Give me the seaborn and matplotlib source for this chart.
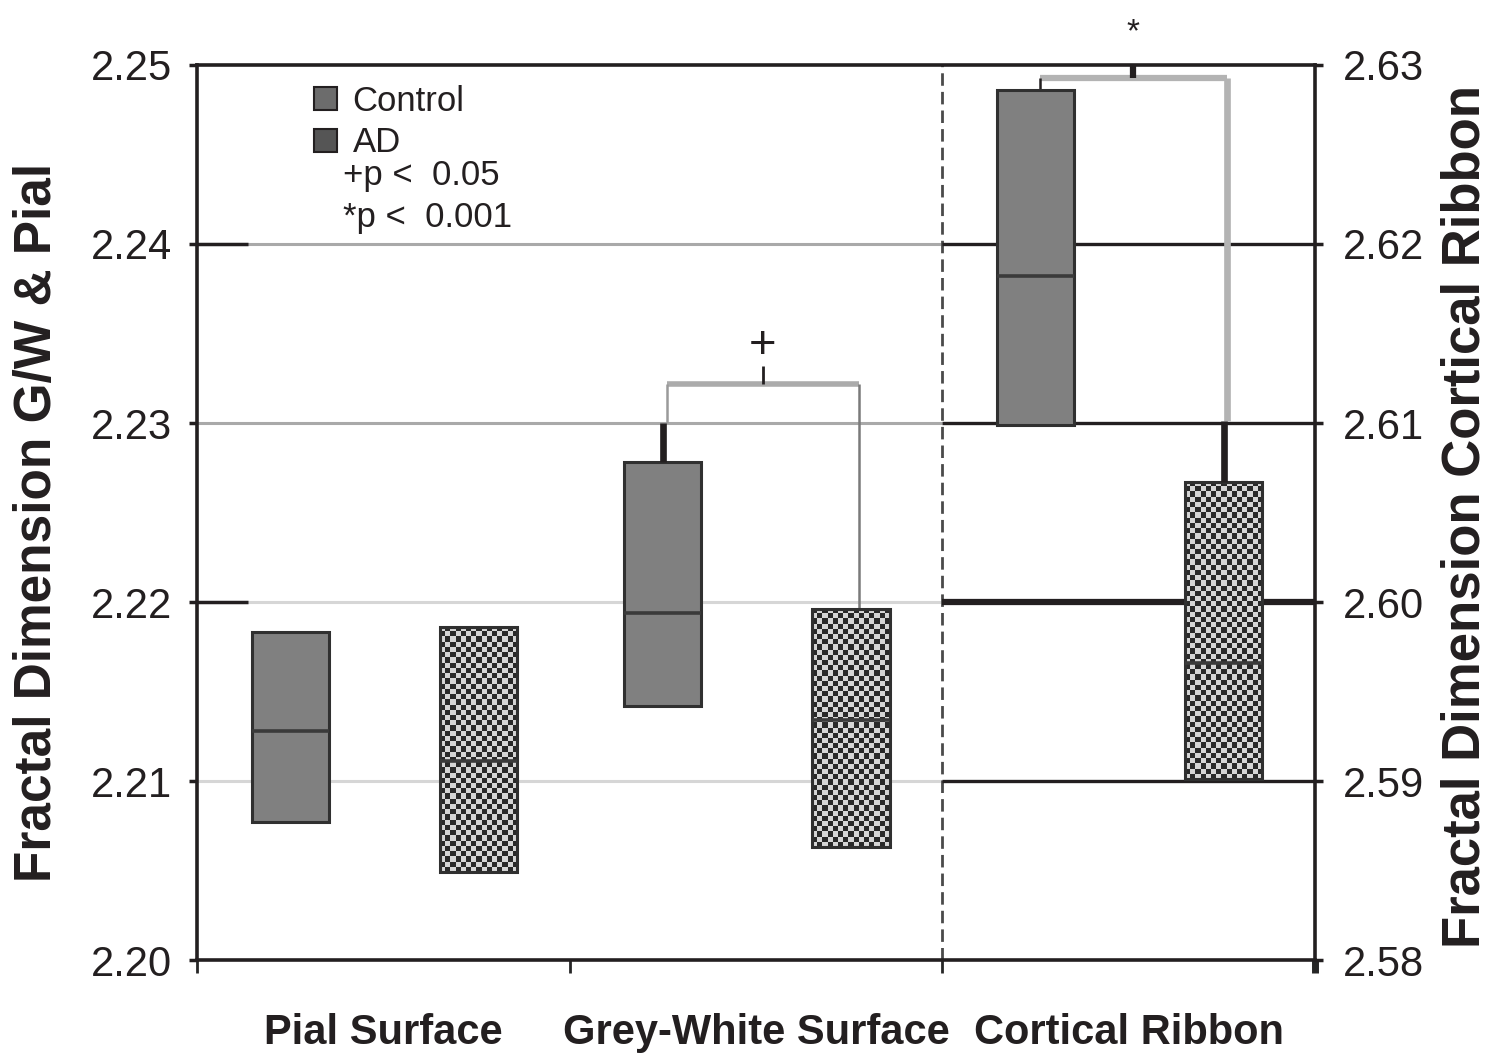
import numpy as np
import pandas as pd
import matplotlib
matplotlib.use("Agg")
import matplotlib.pyplot as plt
from matplotlib import font_manager
from matplotlib.patches import Patch
import seaborn as sns

# ---- data -----------------------------------------------------------------
categories = ["Pial Surface", "Grey-White Surface", "Cortical Ribbon"]
groups = ["Control", "AD"]
# which y axis each category is read on
category_axis = ["left", "left", "right"]

# box lower edge / median / upper edge per category
control_low = [2.2077, 2.2142, 2.6099]
control_median = [2.2128, 2.2194, 2.6182]
control_high = [2.2183, 2.2278, 2.6286]
ad_low = [2.2049, 2.2063, 2.5901]
ad_median = [2.2111, 2.2134, 2.5966]
ad_high = [2.2186, 2.2196, 2.6067]
# upper whisker ends (NaN = no whisker shown)
control_whisker = [np.nan, 2.2300, np.nan]
ad_whisker = [np.nan, np.nan, 2.6101]

left_ticks = [2.20, 2.21, 2.22, 2.23, 2.24, 2.25]
right_ticks = [2.58, 2.59, 2.60, 2.61, 2.62, 2.63]

# significance brackets
sig_category = [1, 2]
sig_height = [2.2322, 2.6293]
sig_marker = ["+", "*"]
legend_notes = ["+p <  0.05", "*p <  0.001"]

# ---- fonts ------------------------------------------------------------------
def has_font(name):
    try:
        font_manager.findfont(font_manager.FontProperties(family=name),
                              fallback_to_default=False)
        return True
    except ValueError:
        return False

NARROW = has_font("Liberation Sans Narrow")
narrow_family = ["Liberation Sans Narrow", "Liberation Sans"] if NARROW else ["Liberation Sans"]
wide_family = ["Liberation Sans", "DejaVu Sans"]

sns.set_theme(style="white")
plt.rcParams["font.family"] = narrow_family

INK = "#231f20"
tick_size = 36 if NARROW else 30
cat_size = 37 if NARROW else 30
legend_size = 30 if NARROW else 25

# ---- layout -----------------------------------------------------------------
fig = plt.figure(figsize=(14.9, 10.6), dpi=100)
ax = fig.add_axes([0.1322, 0.0943, 0.7504, 0.8444])
ax2 = ax.twinx()

offsets = {"Control": 0.25, "AD": 0.755}
box_width = 0.207

rows = []
for i, cat in enumerate(categories):
    for grp, lo, md, hi, wh in (
        ("Control", control_low[i], control_median[i], control_high[i], control_whisker[i]),
        ("AD", ad_low[i], ad_median[i], ad_high[i], ad_whisker[i]),
    ):
        rows.append(dict(category=cat, idx=i, group=grp, axis=category_axis[i],
                         pos=i + offsets[grp], low=lo, median=md, high=hi,
                         whisker=wh, span=hi - lo))
df = pd.DataFrame(rows)

ax.set_xlim(0, 3)
ax.set_ylim(2.20, 2.25)
ax2.set_ylim(2.58, 2.63)

px_x = ax.bbox.width / 3.0
px_y = ax.bbox.height / 0.05

# grid lines: grey on the left panel, black on the ribbon panel
left_grid_color = {2.21: "#d6d6d6", 2.22: "#d6d6d6", 2.23: "#a9a9a9", 2.24: "#a9a9a9"}
for y, c in left_grid_color.items():
    ax.hlines(y, 0, 2, color=c, lw=2.2, zorder=1)
for y in [2.22, 2.24]:
    ax.hlines(y, 0, 51 / px_x, color=INK, lw=2.5, zorder=1.5)
for y in [2.59, 2.60, 2.61, 2.62]:
    ax2.hlines(y, 2, 3, color=INK, lw=4.5 if abs(y - 2.60) < 1e-9 else 2.4, zorder=1)

ax.axvline(2, color="#4a4a4a", lw=2, ls=(0, (4.5, 2.2)), zorder=1.2)

# boxes
def checker(nx, ny):
    yy, xx = np.mgrid[0:ny, 0:nx]
    return ((xx + yy) % 2).astype(float)

for axis_name, sub in df.groupby("axis"):
    target = ax if axis_name == "left" else ax2
    for grp in groups:
        g = sub[sub["group"] == grp].sort_values("pos")
        is_ctrl = grp == "Control"
        sns.barplot(data=g, x="pos", y="span", native_scale=True, orient="x",
                    width=box_width, bottom=g["low"].to_numpy(), errorbar=None,
                    color="#808080" if is_ctrl else "white", saturation=1,
                    edgecolor="#303030", linewidth=2.2, zorder=4, ax=target)
        bars = target.containers[-1]
        for (_, r), bar in zip(g.iterrows(), bars):
            x0 = r["pos"] - box_width / 2
            x1 = r["pos"] + box_width / 2
            if not is_ctrl:
                bar.set_facecolor("none")
                nx = max(2, int(round(box_width * px_x / 5.2)))
                ny = max(2, int(round(r["span"] * px_y / 5.2)))
                im = target.imshow(checker(nx, ny), cmap="gray_r", vmin=-0.25, vmax=1.25,
                                   extent=(x0, x1, r["low"], r["high"]), origin="lower",
                                   aspect="auto", interpolation="antialiased", zorder=3)
                im.set_clip_path(bar)
            target.hlines(r["median"], x0, x1, color="#3a3a3a", lw=2.6, zorder=5)
            if not np.isnan(r["whisker"]):
                target.vlines(r["pos"], r["high"], r["whisker"], color=INK, lw=4.8, zorder=5)

# significance brackets
for ci, h, mk in zip(sig_category, sig_height, sig_marker):
    target = ax if category_axis[ci] == "left" else ax2
    ctrl = df[(df.idx == ci) & (df.group == "Control")].iloc[0]
    ad = df[(df.idx == ci) & (df.group == "AD")].iloc[0]
    xc = ctrl["pos"] + 0.012
    xa = ad["pos"] + (0.02 if mk == "+" else 0.008)
    mid = (xc + xa) / 2
    ctrl_top = ctrl["whisker"] if not np.isnan(ctrl["whisker"]) else ctrl["high"]
    ad_top = ad["whisker"] if not np.isnan(ad["whisker"]) else ad["high"]
    if mk == "+":
        target.hlines(h, xc, xa, color="#ababab", lw=4, zorder=2)
        target.vlines(xc, ctrl_top, h, color="#9a9a9a", lw=1.8, zorder=2)
        target.vlines(xa, ad_top, h, color="#7a7a7a", lw=1.8, zorder=2)
        target.vlines(mid, h, h + 18 / px_y, color=INK, lw=2, zorder=2)
        target.text(mid, h + 38 / px_y, mk, ha="center", va="center",
                    fontsize=34, color=INK, family=wide_family)
    else:
        target.hlines(h, xc, xa, color="#b3b3b3", lw=4.5, zorder=2)
        target.vlines(xc, ctrl_top, h, color=INK, lw=1.8, zorder=2)
        target.vlines(xa, ad_top, h, color="#b3b3b3", lw=4.8, zorder=2)
        target.vlines(mid, h, 2.63, color=INK, lw=4.5, zorder=2)
        target.text(mid, 2.63 + 32 / px_y, mk, ha="center", va="center",
                    fontsize=24, color=INK, family=wide_family, clip_on=False)

# ---- axes cosmetics ---------------------------------------------------------
ax.set_xlim(0, 3)
ax.set_ylim(2.20, 2.25)
ax2.set_ylim(2.58, 2.63)
ax.set_xlabel("")
ax.set_ylabel("")
ax2.set_xlabel("")
ax2.set_ylabel("")

for s in ["left", "top", "bottom"]:
    ax.spines[s].set_color(INK)
    ax.spines[s].set_linewidth(2.6)
ax.spines["right"].set_visible(False)
for s in ["left", "top", "bottom"]:
    ax2.spines[s].set_visible(False)
ax2.spines["right"].set_color(INK)
ax2.spines["right"].set_linewidth(2.6)

ax.set_yticks(left_ticks)
ax.set_yticklabels([f"{v:.2f}" for v in left_ticks])
ax2.set_yticks(right_ticks)
ax2.set_yticklabels([f"{v:.2f}" for v in right_ticks])
ax.tick_params(axis="y", direction="out", length=6, width=2.5, color=INK,
               labelsize=tick_size, labelcolor=INK, pad=12, left=True)
ax2.tick_params(axis="y", direction="out", length=6, width=2.5, color=INK,
                labelsize=tick_size, labelcolor=INK, pad=14, right=True)

ax.set_xticks([0, 1, 2, 3])
ax.set_xticklabels([])
ax.set_xticks([0.5, 1.5, 2.5], minor=True)
ax.set_xticklabels(categories, minor=True, fontsize=cat_size, fontweight="bold", color=INK)
ax.tick_params(axis="x", which="major", direction="out", length=9, width=2, bottom=True)
ax.tick_params(axis="x", which="minor", length=0, pad=38)
major = ax.xaxis.get_major_ticks()
for t, c, w in zip(major, ["#cfcfcf", "#cfcfcf", "#4a4a4a", INK], [2, 2, 2, 5]):
    t.tick1line.set_color(c)
    t.tick1line.set_markeredgewidth(w)
ax2.tick_params(axis="x", bottom=False, top=False, labelbottom=False)

fig.text(38 / 1490, 1 - 522 / 1060, "Fractal Dimension G/W & Pial", rotation=90,
         ha="center", va="center", fontsize=37, fontweight="bold", color=INK,
         family=wide_family)
fig.text(1466 / 1490, 1 - 517 / 1060, "Fractal Dimension Cortical Ribbon", rotation=90,
         ha="center", va="center", fontsize=38, fontweight="bold", color=INK,
         family=wide_family)

# legend
handles = [Patch(facecolor="#6c6c6c", edgecolor=INK, linewidth=1.5),
           Patch(facecolor="#555555", edgecolor=INK, linewidth=1.5)]
leg = ax.legend(handles, groups, loc="upper left", bbox_to_anchor=(0.105, 0.978),
                frameon=False, borderpad=0, borderaxespad=0, handlelength=0.65,
                handleheight=0.65, handletextpad=0.45, labelspacing=0.25,
                fontsize=legend_size)
for txt in leg.get_texts():
    txt.set_color(INK)

to_axes = ax.transAxes.inverted()
for k, note in enumerate(legend_notes):
    xa_, ya_ = to_axes.transform((343, 1060 - 175 - 43 * k))
    ax.text(xa_, ya_, note, transform=ax.transAxes, ha="left", va="center",
            fontsize=legend_size, color=INK)

fig.savefig("out.png", dpi=100)
